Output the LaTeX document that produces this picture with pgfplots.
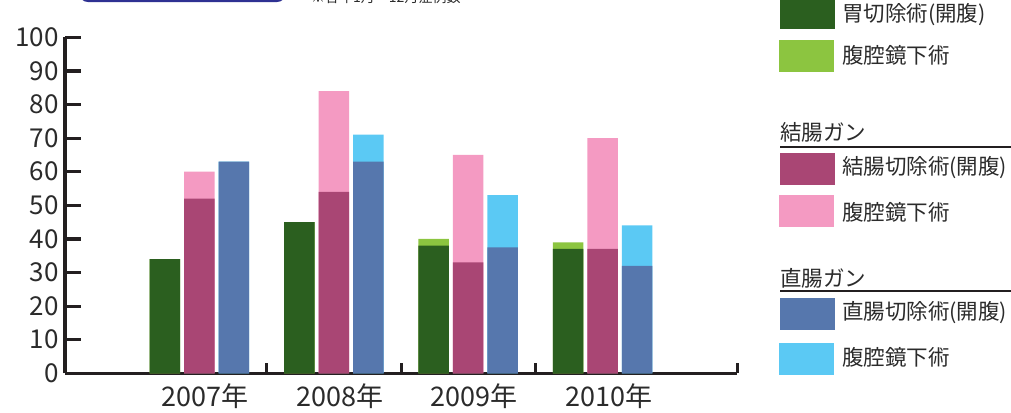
\documentclass[border=0pt]{standalone}
\usepackage{fontspec}
\setmainfont{Noto Sans CJK JP}
\usepackage{pgfplots}
\pgfplotsset{compat=1.18}

\definecolor{dgreen}{HTML}{2B5F1F}
\definecolor{lgreen}{HTML}{8CC540}
\definecolor{dmag}{HTML}{A94674}
\definecolor{lpink}{HTML}{F49AC2}
\definecolor{dblue}{HTML}{5677AD}
\definecolor{lblue}{HTML}{5BC9F4}
\definecolor{axisc}{HTML}{231F20}
\definecolor{textc}{HTML}{2B2B2B}
\definecolor{boxblue}{HTML}{2E3192}

\newcommand\leg{\fontsize{21.5bp}{21.5bp}\selectfont}

\begin{document}
\begin{tikzpicture}
\useasboundingbox (0,0) rectangle (1011bp,-413bp);

\begin{axis}[
    at={(65bp,-373.3bp)}, anchor=south west,
    scale only axis,
    width=672bp, height=336bp,
    xmin=0, xmax=5, ymin=0, ymax=100,
    axis x line*=bottom, axis y line*=left,
    axis line style={line width=3.2bp, color=axisc},
    tick align=inside,
    major tick length=16bp,
    ytick={0,10,...,100},
    ytick style={line width=3.2bp, color=axisc},
    xtick={1,2,3,4},
    xticklabels={2007年,2008年,2009年,2010年},
    xtick style={draw=none},
    extra x ticks={1.5,2.5,3.5,5},
    extra x tick labels={},
    extra x tick style={xtick style={draw=axisc, line width=3bp}, major tick length=10bp},
    /pgf/number format/assume math mode=true,
    yticklabel style={font=\fontsize{26bp}{26bp}\selectfont, text=textc, xshift=-3bp},
    xticklabel style={font=\fontsize{27bp}{27bp}\selectfont, text=textc, xshift=6bp, yshift=-7bp},
    bar width=30.5bp,
    clip=false,
]
% laparoscopic part drawn as total height, open surgery drawn over it
\addplot[ybar, fill=lgreen, draw=none, bar shift=-34.5bp] coordinates {(1,34) (2,45) (3,40) (4,39)};
\addplot[ybar, fill=dgreen, draw=none, bar shift=-34.5bp] coordinates {(1,34) (2,45) (3,38) (4,37)};
\addplot[ybar, fill=lpink, draw=none, bar shift=0bp] coordinates {(1,60) (2,84) (3,65) (4,70)};
\addplot[ybar, fill=dmag, draw=none, bar shift=0bp] coordinates {(1,52) (2,54) (3,33) (4,37)};
\addplot[ybar, fill=lblue, draw=none, bar shift=34.5bp] coordinates {(1,63) (2,71) (3,53) (4,44)};
\addplot[ybar, fill=dblue, draw=none, bar shift=34.5bp] coordinates {(1,63) (2,63) (3,37.5) (4,32)};
\end{axis}

% cut-off header at the top
\draw[line width=2bp, boxblue, rounded corners=8bp] (80bp,20bp) rectangle (285bp,-1bp);
\node[anchor=base west, inner sep=0, text=textc, font=\fontsize{14bp}{14bp}\selectfont]
  at (311bp,-2bp) {※各年1月〜12月症例数};

% legend
\fill[dgreen] (780bp,3bp) rectangle (835bp,-29bp);
\node[anchor=west, inner sep=0, text=textc, font=\leg] at (842bp,-15bp) {胃切除術(開腹)};
\fill[lgreen] (779bp,-40bp) rectangle (834bp,-72bp);
\node[anchor=west, inner sep=0, text=textc, font=\leg] at (842bp,-55bp) {腹腔鏡下術};

\node[anchor=west, inner sep=0, text=textc, font=\leg] at (780bp,-132.5bp) {結腸ガン};
\draw[line width=1.5bp, axisc] (780bp,-147bp) -- (1011bp,-147bp);
\fill[dmag] (780bp,-153bp) rectangle (835bp,-185bp);
\node[anchor=west, inner sep=0, text=textc, font=\leg] at (842bp,-168bp) {結腸切除術(開腹)};
\fill[lpink] (779bp,-195bp) rectangle (834bp,-227bp);
\node[anchor=west, inner sep=0, text=textc, font=\leg] at (842bp,-212bp) {腹腔鏡下術};

\node[anchor=west, inner sep=0, text=textc, font=\leg] at (780bp,-278bp) {直腸ガン};
\draw[line width=1.5bp, axisc] (780bp,-291bp) -- (1011bp,-291bp);
\fill[dblue] (780bp,-298bp) rectangle (835bp,-330bp);
\node[anchor=west, inner sep=0, text=textc, font=\leg] at (842bp,-313bp) {直腸切除術(開腹)};
\fill[lblue] (779bp,-343bp) rectangle (834bp,-375bp);
\node[anchor=west, inner sep=0, text=textc, font=\leg] at (842bp,-357bp) {腹腔鏡下術};
\end{tikzpicture}
\end{document}
